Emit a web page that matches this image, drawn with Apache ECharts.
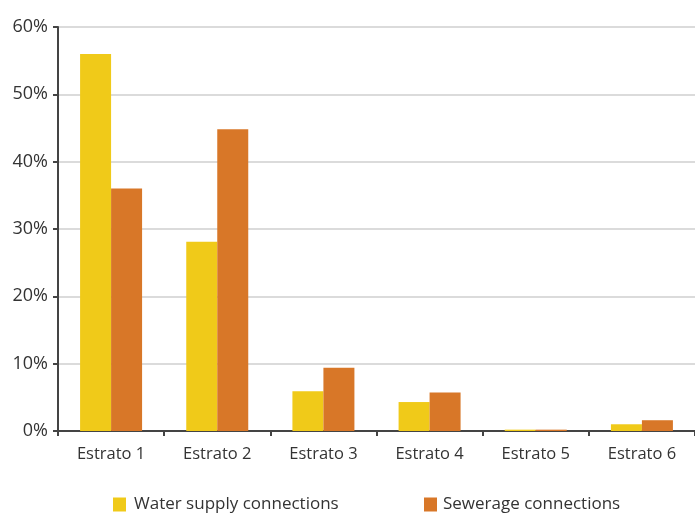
<!DOCTYPE html>
<html>
<head>
<meta charset="utf-8">
<script src="https://cdn.jsdelivr.net/npm/echarts@6/dist/echarts.min.js"></script>
<style>
  html, body { margin: 0; padding: 0; background: #fff; }
  #chart { width: 695px; height: 514px; }
</style>
</head>
<body>
<div id="chart"></div>
<script>
// Share of connections by socio-economic stratum (%)
const categories = ['Estrato 1', 'Estrato 2', 'Estrato 3', 'Estrato 4', 'Estrato 5', 'Estrato 6'];
const waterSupply = [56.0, 28.1, 5.9, 4.3, 0.2, 1.0];
const sewerage = [36.0, 44.8, 9.4, 5.7, 0.2, 1.6];
const yTicks = [0, 10, 20, 30, 40, 50, 60];

const FONT = '"Open Sans", "DejaVu Sans", sans-serif';
const TEXT = '#333333';

const chart = echarts.init(document.getElementById('chart'), null, { renderer: 'canvas' });

chart.setOption({
  animation: false,
  backgroundColor: '#ffffff',
  textStyle: { fontFamily: FONT, color: TEXT },
  grid: { left: 58, right: -7.5, top: 27, bottom: 83, containLabel: false },
  legend: [
    {
      data: ['Water supply connections'],
      left: 113, top: 496, padding: 0,
      icon: 'rect', itemWidth: 13, itemHeight: 14, itemGap: 0,
      textStyle: { fontFamily: FONT, fontSize: 17, color: TEXT, padding: [0, 0, 0, 3] }
    },
    {
      data: ['Sewerage connections'],
      left: 424, top: 496, padding: 0,
      icon: 'rect', itemWidth: 13, itemHeight: 14, itemGap: 0,
      textStyle: { fontFamily: FONT, fontSize: 17, color: TEXT, padding: [0, 0, 0, 1] }
    }
  ],
  xAxis: {
    type: 'category',
    data: categories,
    axisLine: { lineStyle: { color: '#444444', width: 2 } },
    axisTick: { show: true, length: 5, lineStyle: { color: '#444444', width: 2 } },
    axisLabel: { fontFamily: FONT, fontSize: 16.5, color: TEXT, margin: 15 }
  },
  yAxis: {
    type: 'value',
    min: yTicks[0],
    max: yTicks[yTicks.length - 1],
    interval: 10,
    axisLine: { show: true, lineStyle: { color: '#444444', width: 2 } },
    axisTick: { show: true, length: 5, lineStyle: { color: '#444444', width: 2 } },
    axisLabel: { fontFamily: FONT, fontSize: 18, color: TEXT, margin: 10, formatter: '{value}%' },
    splitLine: { show: true, lineStyle: { color: '#cfcfcf', width: 1.5 } }
  },
  series: [
    {
      name: 'Water supply connections',
      type: 'bar',
      data: waterSupply,
      barWidth: 31,
      barGap: '0%',
      itemStyle: { color: '#F0CA19' }
    },
    {
      name: 'Sewerage connections',
      type: 'bar',
      data: sewerage,
      barWidth: 31,
      barGap: '0%',
      itemStyle: { color: '#D87728' }
    }
  ]
});
</script>
</body>
</html>
